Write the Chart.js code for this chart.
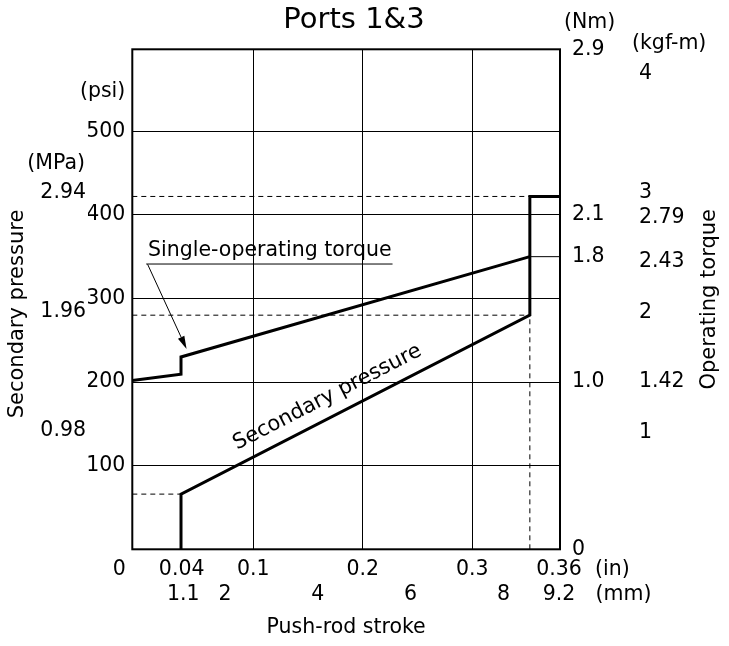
<!DOCTYPE html>
<html>
<head>
<meta charset="utf-8">
<script src="https://cdn.jsdelivr.net/npm/chart.js@4"></script>
<style>
  html, body { margin: 0; padding: 0; background: #fff; }
</style>
</head>
<body>
<canvas id="c" width="729" height="646"></canvas>
<script>
// ---------------- data ----------------
const chartTitle = 'Ports 1&3';
// push-rod stroke in mm, secondary pressure in psi
const pressureStrokeMm = [1.05, 1.05, 8.57, 8.57, 9.22];
const pressurePsi      = [0, 66, 280, 422, 422];
// single-operating torque in Nm
const torqueStrokeMm = [0, 1.05, 1.05, 8.57];
const torqueNm       = [1.01, 1.05, 1.16, 1.8];

// axis ticks
const psiTicks = [100, 200, 300, 400, 500];
const mpaTicks = [0.98, 1.96, 2.94];
const nmTicks = [0, 1.0, 1.8, 2.1, 2.9];
const nmTickLabels = ['0', '1.0', '1.8', '2.1', '2.9'];
const nmTickPsi = [0, 200, 350, 400, 598];   // height of each Nm mark on the printed (non-linear) Nm scale, in psi
const kgfTicks = [1, 1.42, 2, 2.43, 2.79, 3, 4];
const mmTicks = [1.1, 2, 4, 6, 8, 9.2];
const inchTickLabels = ['0    ', '0.04', '0.1', '0.2', '0.3', '0.36'];
const inchTickAt = [-0.0105, 0.0346, 0.1, 0.2, 0.3, 0.3792]; // where each printed inch label sits on the inch scale
const inchGrid = [0.1, 0.2, 0.3];

// ---------------- helpers / styling ----------------
const FONT = "'DejaVu Sans'";
const TS = 20.5;
Chart.defaults.font.family = FONT;
Chart.defaults.color = '#000';

function nmToPsi(v) {
  for (let i = 1; i < nmTicks.length; i++) {
    if (v <= nmTicks[i]) {
      const t = (v - nmTicks[i - 1]) / (nmTicks[i] - nmTicks[i - 1]);
      return nmTickPsi[i - 1] + t * (nmTickPsi[i] - nmTickPsi[i - 1]);
    }
  }
  return nmTickPsi[nmTickPsi.length - 1];
}
const pts = (xs, ys) => xs.map((x, i) => ({ x, y: ys[i] }));

const pressureData = pts(pressureStrokeMm, pressurePsi);
const torqueData = pts(torqueStrokeMm, torqueNm.map(nmToPsi));
const xKnee = pressureStrokeMm[1], xEnd = pressureStrokeMm[2], xMax = pressureStrokeMm[4];
const guide18 = [{ x: xEnd, y: nmToPsi(1.8) }, { x: xMax, y: nmToPsi(1.8) }];
const dashTop = [{ x: 0, y: pressurePsi[3] }, { x: xEnd, y: pressurePsi[3] }];
const dashMid = [{ x: 0, y: pressurePsi[2] }, { x: xEnd, y: pressurePsi[2] }];
const dashLow = [{ x: 0, y: pressurePsi[1] }, { x: xKnee, y: pressurePsi[1] }];
const dashVert = [{ x: xEnd, y: 0 }, { x: xEnd, y: pressurePsi[2] }];

// annotation anchors (mm, psi)
const torqueNote = { text: 'Single-operating torque', x: 0.34, y: 350.8 };
const torqueUnderline = [[0.30, 341.2], [5.61, 341.2]];
const torqueArrow = [[0.33, 340.9], [1.17, 239.5]];
const pressureNote = { text: 'Secondary pressure', x: 4.26, y: 176 };

const solid = (data, w) => ({ data, xAxisID: 'x', yAxisID: 'y', borderColor: '#000', borderWidth: w,
  pointRadius: 0, tension: 0, fill: false, borderJoinStyle: 'miter', borderCapStyle: 'butt' });
const dashed = data => Object.assign(solid(data, 1), { borderDash: [5, 4] });

const decor = {
  id: 'decor',
  beforeDatasetsDraw(chart) {
    const { ctx, chartArea: a } = chart;
    ctx.save();
    ctx.strokeStyle = '#000';
    ctx.lineWidth = 2;
    ctx.strokeRect(a.left, a.top, a.right - a.left, a.bottom - a.top);
    ctx.restore();
  },
  afterDatasetsDraw(chart) {
    const { ctx, chartArea: a, scales: s } = chart;
    const X = v => s.x.getPixelForValue(v), Y = v => s.y.getPixelForValue(v);
    ctx.save();
    ctx.fillStyle = '#000';
    ctx.strokeStyle = '#000';
    ctx.font = `${TS}px ${FONT}`;

    // Single-operating torque note + underline + arrow
    ctx.textAlign = 'left';
    ctx.textBaseline = 'alphabetic';
    ctx.fillText(torqueNote.text, X(torqueNote.x), Y(torqueNote.y));
    ctx.lineWidth = 1;
    ctx.beginPath();
    ctx.moveTo(X(torqueUnderline[0][0]), Y(torqueUnderline[0][1]));
    ctx.lineTo(X(torqueUnderline[1][0]), Y(torqueUnderline[1][1]));
    ctx.stroke();
    const ax0 = X(torqueArrow[0][0]), ay0 = Y(torqueArrow[0][1]);
    const ax1 = X(torqueArrow[1][0]), ay1 = Y(torqueArrow[1][1]);
    const ang = Math.atan2(ay1 - ay0, ax1 - ax0);
    const hl = 13, hw = 3.5;
    const bx = ax1 - hl * Math.cos(ang), by = ay1 - hl * Math.sin(ang);
    ctx.beginPath();
    ctx.moveTo(ax0, ay0);
    ctx.lineTo(bx, by);
    ctx.stroke();
    ctx.beginPath();
    ctx.moveTo(ax1, ay1);
    ctx.lineTo(bx + hw * Math.sin(ang), by - hw * Math.cos(ang));
    ctx.lineTo(bx - hw * Math.sin(ang), by + hw * Math.cos(ang));
    ctx.closePath();
    ctx.fill();

    // Secondary pressure note along its line
    const lang = Math.atan2(Y(pressurePsi[2]) - Y(pressurePsi[1]), X(xEnd) - X(xKnee));
    ctx.save();
    ctx.translate(X(pressureNote.x), Y(pressureNote.y));
    ctx.rotate(lang);
    ctx.textAlign = 'center';
    ctx.font = `21px ${FONT}`;
    ctx.fillText(pressureNote.text, 0, 0);
    ctx.restore();

    // unit labels
    ctx.textBaseline = 'middle';
    ctx.textAlign = 'right';
    ctx.fillText('(psi)', s.y.right - 7, Y(547));
    ctx.fillText('(MPa)', s.yMPa.right - 3, Y(461));
    ctx.textAlign = 'left';
    ctx.fillText('(Nm)', s.yNm.left + 4, a.top - 27);
    ctx.fillText('(kgf-m)', s.yKgf.left + 2, a.top - 6);
    ctx.fillText('(in)', a.right + 35, s.xin.top + 20.7);
    ctx.fillText('(mm)', a.right + 35.5, s.x.top + 19.7);

    // rotated axis titles
    ctx.font = `21px ${FONT}`;
    ctx.textAlign = 'center';
    ctx.save();
    ctx.translate(17.5, 314);
    ctx.rotate(-Math.PI / 2);
    ctx.fillText('Secondary pressure', 0, 0);
    ctx.restore();
    ctx.save();
    ctx.translate(710, (a.top + a.bottom) / 2);
    ctx.rotate(-Math.PI / 2);
    ctx.fillText('Operating torque', 0, 0);
    ctx.restore();
    ctx.restore();
  }
};

const noGrid = { display: false, drawTicks: false };
const tickFont = { size: TS };

new Chart(document.getElementById('c'), {
  type: 'line',
  data: {
    datasets: [
      solid(pressureData, 3),
      solid(torqueData, 3),
      solid(guide18, 1),
      dashed(dashTop),
      dashed(dashMid),
      dashed(dashLow),
      dashed(dashVert)
    ]
  },
  options: {
    responsive: false,
    devicePixelRatio: 1,
    animation: false,
    events: [],
    layout: { padding: { left: 0, right: 21, top: 0, bottom: 0 } },
    plugins: {
      legend: { display: false },
      tooltip: { enabled: false },
      title: {
        display: true, text: chartTitle, color: '#000',
        font: { size: 29, weight: 'normal', family: FONT },
        padding: { top: 2.6, bottom: 11.9 }
      }
    },
    scales: {
      x: {
        type: 'linear', position: 'bottom', weight: 1, min: 0, max: 9.22,
        afterBuildTicks: sc => { sc.ticks = mmTicks.map(v => ({ value: v })); },
        afterFit: sc => { sc.height = 70.7; },
        ticks: { autoSkip: false, maxRotation: 0, minRotation: 0, padding: 7.4, font: tickFont,
                 callback: v => String(v) },
        grid: noGrid,
        border: { display: false },
        title: { display: true, text: 'Push-rod stroke', font: { size: TS }, padding: { top: 0, bottom: 5.7 } }
      },
      xin: {
        type: 'linear', position: 'bottom', weight: 0, min: -0.0105, max: 0.3801,
        afterBuildTicks: sc => { sc.ticks = inchTickAt.map(v => ({ value: v })); },
        afterFit: sc => { sc.height = 26; },
        ticks: { autoSkip: false, maxRotation: 0, minRotation: 0, padding: 8.4, font: tickFont,
                 callback: (v, i) => inchTickLabels[i] },
        grid: { drawTicks: false, lineWidth: 1,
                color: c => (c.tick && inchGrid.includes(c.tick.value)) ? '#000' : 'rgba(0,0,0,0)' },
        border: { display: false }
      },
      y: {
        type: 'linear', position: 'left', weight: 0, min: 0, max: 598,
        afterBuildTicks: sc => { sc.ticks = psiTicks.map(v => ({ value: v })); },
        afterFit: sc => { sc.width = 44.3; },
        ticks: { autoSkip: false, padding: 7, font: tickFont, callback: v => String(v) },
        grid: { color: '#000', lineWidth: 1, drawTicks: false },
        border: { display: false }
      },
      yMPa: {
        type: 'linear', position: 'left', weight: 1, min: 0, max: 598 * 0.0068948,
        afterBuildTicks: sc => { sc.ticks = mpaTicks.map(v => ({ value: v })); },
        afterFit: sc => { sc.width = 88; },
        ticks: { autoSkip: false, padding: 2, font: tickFont, callback: v => String(v) },
        grid: noGrid,
        border: { display: false }
      },
      yNm: {
        type: 'linear', position: 'right', weight: 0, min: 0, max: 598,
        afterBuildTicks: sc => { sc.ticks = nmTickPsi.map(v => ({ value: v })); },
        afterFit: sc => { sc.width = 70; },
        ticks: { autoSkip: false, padding: 12, font: tickFont, callback: (v, i) => nmTickLabels[i] },
        grid: noGrid,
        border: { display: false }
      },
      yKgf: {
        type: 'linear', position: 'right', weight: 1, min: 0.024, max: 4.2,
        afterBuildTicks: sc => { sc.ticks = kgfTicks.map(v => ({ value: v })); },
        afterFit: sc => { sc.width = 78; },
        ticks: { autoSkip: false, padding: 9, font: tickFont, callback: v => String(v) },
        grid: noGrid,
        border: { display: false }
      }
    }
  },
  plugins: [decor]
});
</script>
</body>
</html>
